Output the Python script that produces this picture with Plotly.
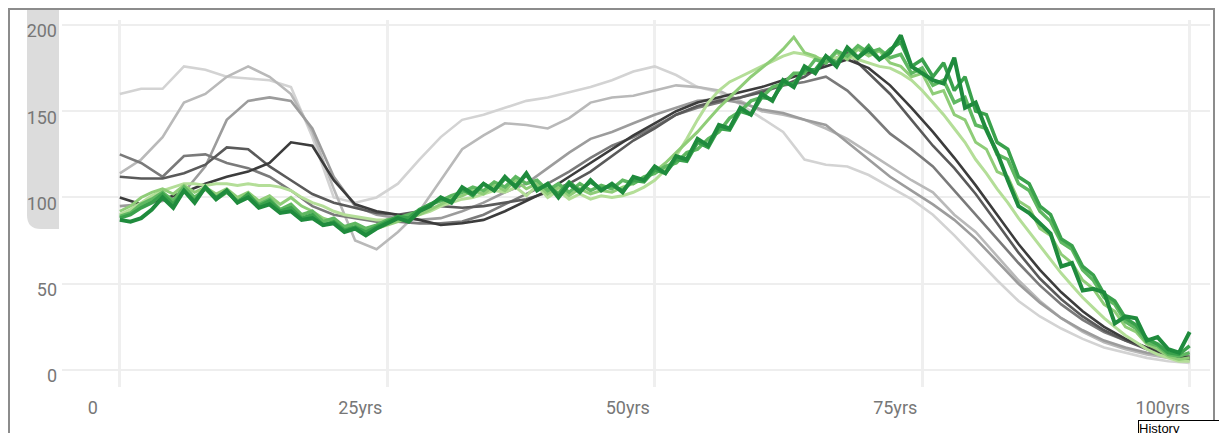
import plotly.graph_objects as go

# ------------------------------------------------------------
# data: values per age (years)
# ------------------------------------------------------------
years_gray = list(range(0, 101, 2))
years_green = list(range(0, 101))

gray_1 = [160, 163, 163, 176, 174, 170, 169, 168, 164, 135, 100, 97, 100, 108, 122, 135, 145,
          148, 152, 156, 158, 161, 164, 168, 173, 176, 171, 164, 161, 154, 146, 138, 122, 119,
          118, 113, 106, 99, 90, 78, 65, 52, 40, 31, 24, 18, 13, 10, 7, 5, 4]
gray_2 = [114, 122, 135, 155, 160, 170, 176, 170, 160, 138, 105, 75, 70, 80, 92, 110, 128,
          136, 143, 142, 140, 146, 155, 158, 159, 162, 165, 164, 162, 156, 150, 148, 145, 140,
          134, 126, 118, 110, 103, 90, 80, 66, 52, 40, 30, 22, 16, 12, 9, 7, 5]
gray_3 = [95, 96, 98, 103, 118, 145, 156, 158, 156, 140, 112, 95, 90, 88, 87, 88, 92,
          97, 103, 108, 117, 126, 134, 138, 143, 148, 152, 156, 157, 155, 151, 149, 145, 142,
          132, 122, 112, 104, 96, 87, 76, 63, 50, 39, 30, 23, 17, 13, 10, 8, 6]
gray_4 = [125, 120, 112, 124, 125, 120, 117, 112, 104, 95, 90, 88, 86, 86, 85, 85, 86,
          90, 96, 102, 108, 115, 123, 130, 135, 141, 148, 152, 155, 158, 162, 165, 167, 170,
          162, 150, 137, 128, 118, 104, 90, 76, 62, 49, 38, 29, 22, 17, 13, 10, 8]
gray_5 = [112, 111, 111, 114, 119, 129, 128, 118, 110, 102, 97, 94, 91, 90, 92, 95, 94,
          95, 97, 99, 103, 108, 115, 124, 133, 140, 148, 153, 156, 158, 161, 165, 170, 178,
          184, 172, 160, 145, 130, 117, 102, 85, 68, 53, 41, 31, 23, 17, 12, 9, 6]
gray_6 = [100, 96, 99, 103, 108, 112, 115, 120, 132, 130, 110, 96, 92, 90, 87, 84, 85,
          87, 92, 98, 104, 112, 120, 128, 136, 143, 150, 155, 158, 161, 164, 168, 172, 176,
          180, 175, 165, 152, 138, 123, 107, 90, 73, 58, 45, 34, 25, 18, 13, 9, 7]

green_1 = [90, 93, 97, 101, 104, 106, 108, 108, 107, 108, 108, 107, 108, 107, 107,
           106, 104, 100, 97, 95, 92, 90, 89, 88, 87,
           87, 87, 88, 90, 92, 95, 97, 99, 100, 102, 104, 103, 106, 101, 107,
           100, 104, 99, 102, 99, 101, 100, 101, 103, 106,
           110, 116, 124, 134, 145, 155, 162, 167, 170, 173, 176, 179, 182, 184, 183,
           181, 180, 181, 182, 180, 178, 176, 175, 172, 168,
           162, 155, 148, 140, 132, 122, 114, 105, 97, 88, 80, 72, 64, 56, 49,
           42, 36, 30, 25, 20, 16, 12, 9, 7, 5, 5]
green_2 = [92, 95, 100, 103, 105, 102, 107, 103, 106, 102, 105, 100, 103, 98, 101,
           96, 100, 95, 92, 88, 86, 83, 82, 81, 82,
           84, 86, 88, 90, 93, 96, 99, 101, 104, 102, 107, 104, 110, 105, 108,
           102, 106, 101, 105, 102, 104, 103, 106, 108, 111,
           115, 120, 126, 132, 138, 145, 152, 158, 164, 170, 175, 180, 186, 193, 184,
           182, 178, 184, 180, 186, 182, 185, 178, 176, 170,
           172, 160, 162, 148, 145, 132, 128, 115, 112, 98, 94, 82, 78, 67, 62,
           52, 47, 38, 34, 25, 22, 15, 12, 8, 6, 7]
green_3 = [89, 91, 96, 99, 103, 98, 106, 100, 105, 99, 103, 98, 101, 96, 99,
           93, 96, 90, 92, 86, 88, 83, 85, 82, 84,
           87, 88, 90, 92, 96, 98, 101, 103, 106, 104, 109, 106, 112, 108, 110,
           104, 108, 103, 108, 104, 107, 105, 110, 108, 112,
           114, 118, 120, 126, 128, 134, 138, 146, 150, 156, 158, 164, 166, 172, 172,
           180, 178, 185, 182, 188, 184, 186, 181, 183, 172,
           175, 165, 168, 155, 158, 142, 140, 125, 122, 108, 104, 92, 86, 74, 70,
           58, 52, 42, 38, 28, 24, 16, 14, 9, 8, 10]
green_4 = [88, 90, 94, 97, 102, 96, 104, 98, 106, 100, 104, 97, 102, 95, 98,
           92, 94, 88, 90, 84, 86, 81, 83, 80, 83,
           86, 89, 88, 93, 96, 99, 98, 105, 101, 108, 104, 111, 107, 113, 105,
           107, 102, 109, 104, 109, 105, 107, 104, 110, 109,
           116, 114, 122, 121, 132, 129, 140, 139, 150, 148, 158, 157, 166, 166, 174,
           174, 182, 178, 186, 181, 188, 180, 186, 190, 176,
           180, 170, 178, 162, 170, 150, 148, 132, 128, 112, 108, 95, 90, 76, 72,
           60, 55, 44, 40, 30, 26, 18, 15, 10, 9, 14]
green_5 = [87, 86, 88, 93, 100, 94, 104, 97, 106, 99, 104, 97, 100, 94, 96,
           91, 92, 87, 88, 84, 85, 80, 82, 78, 82,
           85, 88, 86, 92, 95, 100, 97, 106, 102, 108, 104, 112, 106, 114, 104,
           108, 100, 108, 103, 110, 104, 108, 103, 112, 110,
           118, 114, 124, 122, 134, 130, 142, 140, 152, 148, 160, 156, 168, 164, 176,
           172, 182, 176, 187, 181, 186, 180, 184, 194, 176,
           172, 168, 166, 181, 152, 155, 139, 126, 110, 95, 91, 85, 79, 60, 62,
           46, 47, 45, 27, 31, 30, 17, 19, 12, 10, 22]

tick_vals_x = [0, 25, 50, 75, 100]
tick_text_x = ["0", "25yrs", "50yrs", "75yrs", "100yrs"]
tick_vals_y = [0, 50, 100, 150, 200]

gray_series = [gray_1, gray_2, gray_3, gray_4, gray_5, gray_6]
gray_colors = ["#d3d3d3", "#b9b9b9", "#9c9c9c", "#7a7a7a", "#5a5a5a", "#3c3c3c"]
green_series = [green_1, green_2, green_3, green_4, green_5]
green_colors = ["#b4de98", "#8fcd78", "#5fb861", "#3aa14c", "#1f8b3d"]
green_widths = [3, 3, 3.5, 3.5, 4]

# ------------------------------------------------------------
# figure
# ------------------------------------------------------------
fig = go.Figure()

for vals, col in zip(gray_series, gray_colors):
    fig.add_trace(go.Scatter(x=years_gray, y=vals, mode="lines",
                             line=dict(color=col, width=2.6), showlegend=False))

for vals, col, w in zip(green_series, green_colors, green_widths):
    fig.add_trace(go.Scatter(x=years_green, y=vals, mode="lines",
                             line=dict(color=col, width=w), showlegend=False))

# the page body adds an 8px margin, so the figure is laid out in
# screen pixels minus that offset
OFF = 8
W, H = 1227 - OFF, 433 - OFF
L, R, T, B = 62 - OFF, 1210 - OFF, 20 - OFF, 387 - OFF


def px(x):
    return (x - OFF - L) / (R - L)


def py(y):
    return (B - (y - OFF)) / (B - T)


wm = "#dcdcdc"
shapes = []
# left rounded bar behind the y labels (part of a faint watermark)
path = (f"M {px(27)},{py(4)} L {px(59)},{py(4)} L {px(59)},{py(229)} "
        f"L {px(41)},{py(229)} Q {px(27)},{py(229)} {px(27)},{py(215)} Z")
shapes.append(dict(type="path", xref="paper", yref="paper", path=path,
                   fillcolor=wm, line_width=0, layer="below"))
# outer frame
shapes.append(dict(type="rect", xref="paper", yref="paper", x0=px(9), x1=px(1214),
                   y0=py(470), y1=py(9), line=dict(color="#8c8c8c", width=2),
                   fillcolor="rgba(0,0,0,0)", layer="below"))

fig.update_layout(
    width=W, height=H,
    margin=dict(l=L, r=W - R, t=T, b=H - B, autoexpand=False),
    paper_bgcolor="white",
    plot_bgcolor="rgba(0,0,0,0)",
    font=dict(family="Roboto, Open Sans, sans-serif", size=18, color="#777777"),
    shapes=shapes,
    showlegend=False,
)

fig.update_xaxes(
    range=[-5.4, 101.9], tickvals=tick_vals_x, ticktext=tick_text_x,
    showgrid=True, gridcolor="#efefef", gridwidth=2.5, zeroline=False,
    showline=False, ticks="", ticklabelshift=-27, ticklabelstandoff=8,
    ticklabeloverflow="allow", automargin=False,
)
fig.update_yaxes(
    range=[-9.9, 202.9], tickvals=tick_vals_y,
    showgrid=True, gridcolor="#eeeeee", gridwidth=1.5, zeroline=False,
    showline=False, ticks="", ticklabelshift=6, ticklabelstandoff=4,
    ticklabeloverflow="allow", automargin=False,
)

fig.add_annotation(
    xref="paper", yref="paper", x=px(1138), y=py(420), xanchor="left", yanchor="top",
    text="History", showarrow=False, align="left", valign="top",
    width=95, height=30, bgcolor="white", bordercolor="black", borderwidth=1, borderpad=0,
    font=dict(family="Liberation Sans, Arial", size=13, color="black"),
)

fig.write_html("out.html")
